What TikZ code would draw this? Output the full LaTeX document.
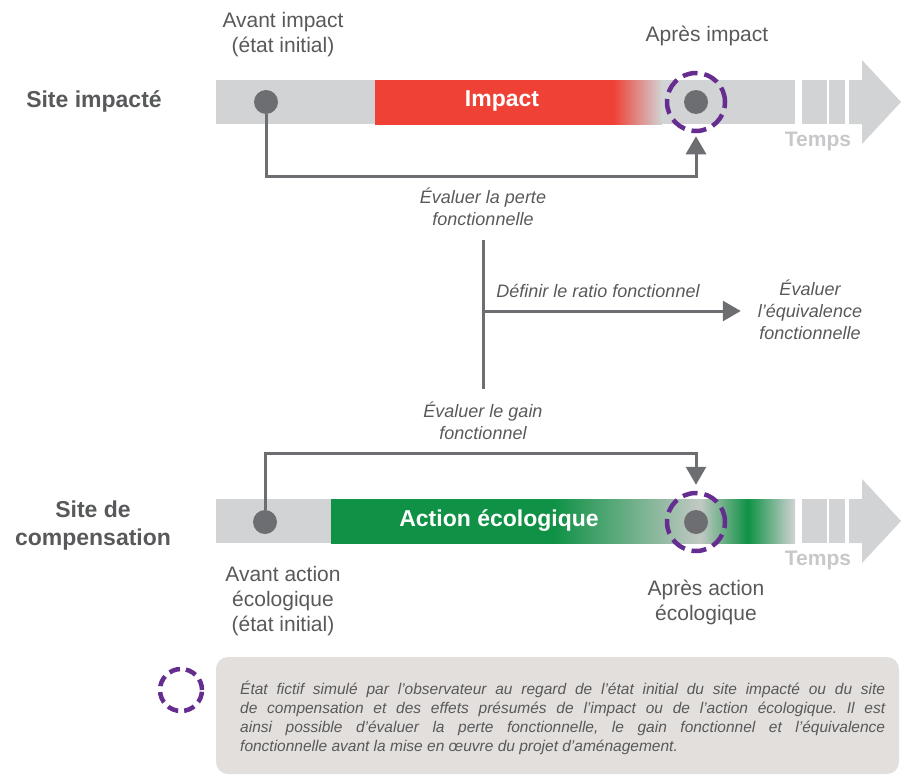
\documentclass[tikz,border=0pt]{standalone}
\usepackage{fontspec}
\setmainfont{Liberation Sans}
\usetikzlibrary{arrows.meta}

\definecolor{txtgray}{HTML}{58595B}
\definecolor{linkgray}{HTML}{6D6E71}
\definecolor{bargray}{HTML}{D1D3D4}
\definecolor{tempsgray}{HTML}{C7C8CA}
\definecolor{impactred}{HTML}{EF4136}
\definecolor{actiongreen}{HTML}{0F9245}
\definecolor{palegreen}{HTML}{C2C9C4}
\definecolor{ringpurple}{HTML}{662D91}
\definecolor{notebg}{HTML}{E3DFDC}

% band fades (path box maps to 25bp..75bp)
\pgfdeclarehorizontalshading{impactband}{100bp}{color(0bp)=(impactred);
    color(25bp)=(impactred); color(66.5bp)=(impactred); color(75bp)=(bargray);
    color(100bp)=(bargray)}
\pgfdeclarehorizontalshading{actionband}{100bp}{color(0bp)=(actiongreen);
    color(25bp)=(actiongreen); color(49bp)=(actiongreen); color(64.8bp)=(palegreen);
    color(69.9bp)=(actiongreen); color(75bp)=(bargray); color(100bp)=(bargray)}

\tikzset{
    lbl/.style={text=txtgray, align=center, inner sep=0pt,
        font=\fontsize{21}{25}\selectfont},
    task/.style={text=txtgray, align=center, inner sep=0pt,
        font=\fontsize{18}{22}\selectfont\itshape},
    site/.style={text=txtgray, align=center, inner sep=0pt,
        font=\fontsize{23}{28}\selectfont\bfseries},
    phase/.style={text=white, inner sep=0pt,
        font=\fontsize{23}{28}\selectfont\bfseries},
    temps/.style={text=tempsgray, inner sep=0pt,
        font=\fontsize{21}{24}\selectfont\bfseries},
    dot/.style={circle, fill=linkgray, minimum size=24pt, inner sep=0pt},
    ring/.style={circle, draw=ringpurple, line width=4.5pt,
        dash pattern=on 15pt off 7pt, minimum size=58pt, inner sep=0pt},
    stem/.style={draw=linkgray, line width=3pt},
    link/.style={stem, -{Triangle[width=20pt,length=18pt]}},
    note/.style={text=txtgray, text width=645pt, align=justify, inner sep=0pt,
        font=\fontsize{15.5}{19}\selectfont\itshape\frenchspacing},
}

\begin{document}
\begin{tikzpicture}[x=1pt, y=-1pt]
    \useasboundingbox (0,0) rectangle (901,776);

    % Time tracks
    \foreach \dy in {0,419} {
        \begin{scope}[yshift=-\dy pt]
            \fill[bargray] (216,80) rectangle (795,124);
            \fill[bargray] (802,80) rectangle (827,124);
            \fill[bargray] (829,80) rectangle (845,124);
            \fill[bargray] (849,80) -- (862,80) -- (862,60) -- (901,102)
                -- (862,144) -- (862,124) -- (849,124) -- cycle;
        \end{scope}
    }

    % Impact and action bands
    \shade[shading=impactband] (375,80) rectangle (662,124);
    \shade[shading=actionband] (331,499) rectangle (795,543);

    % States
    \node[dot]  (dotA)  at (266,102) {};
    \node[dot]  (postA) at (696,102) {};
    \node[ring] (ringA) at (696,102) {};
    \node[dot]  (dotB)  at (265,522) {};
    \node[dot]  (postB) at (696,522) {};
    \node[ring] (ringB) at (696,522) {};

    % Bands and sites
    \node[phase] (impact) at (502,101) {Impact};
    \node[phase] (action) at (499,520) {Action écologique};
    \node[site] (siteA) at (94,101) {Site impacté};
    \node[site] (siteB) at (93,526) {Site de\\compensation};
    \node[temps] (tempsA) at (818,141) {Temps};
    \node[temps] (tempsB) at (818,560) {Temps};

    % State labels
    \node[lbl] (avantA) at (283,35) {Avant impact\\(état initial)};
    \node[lbl] (apresA) at (707,36) {Après impact};
    \node[lbl] (avantB) at (283,601) {Avant action\\écologique\\(état initial)};
    \node[lbl] (apresB) at (706,602) {Après action\\écologique};

    % Evaluations
    \node[task] (losslbl)  at (483,207) {Évaluer la perte\\fonctionnelle};
    \node[task] (gainlbl)  at (483,421) {Évaluer le gain\\fonctionnel};
    \node[task] (ratiolbl) at (598,291) {Définir le ratio fonctionnel};
    \node[task] (equiv)    at (810,310) {Évaluer\\l’équivalence\\fonctionnelle};
    \coordinate (ratio) at (483,311);

    % Lines
    \draw[link, shorten >=3pt] (dotA) -- ++(0,74) -| (ringA);
    \draw[link, shorten >=6pt] (dotB) -- ++(0,-69) -| (ringB);
    \draw[stem, shorten <=14pt, shorten >=13pt] (losslbl) -- (gainlbl);
    \draw[link, shorten >=17pt] (ratio) -- (ratio -| equiv.west);

    % Legend
    \node[ring, line width=4.5pt, minimum size=42pt, dash pattern=on 11pt off 6pt] (keyring) at (181,690) {};
    \fill[notebg, rounded corners=12pt] (216,657) rectangle (899,774);
    \node[note, anchor=north west] (notetxt) at (240,681) {État fictif simulé par l’observateur au regard de l’état initial du site impacté ou du site\linebreak de compensation et des effets présumés de l’impact ou de l’action écologique. Il est\linebreak ainsi possible d’évaluer la perte fonctionnelle, le gain fonctionnel et l’équivalence\linebreak fonctionnelle avant la mise en œuvre du projet d’aménagement.};
\end{tikzpicture}
\end{document}
